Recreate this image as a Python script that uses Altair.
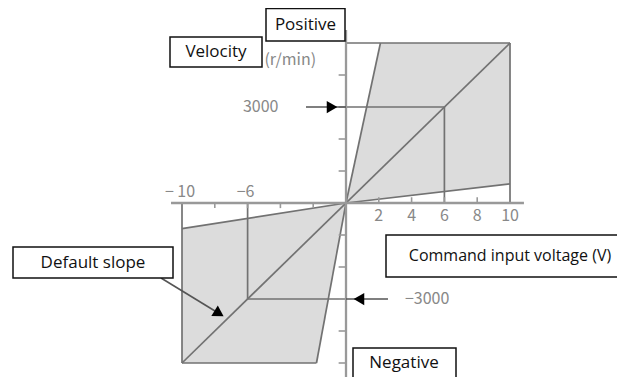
import altair as alt
import pandas as pd

# ---------------- data ----------------
V_MAX = 10                 # command input voltage range (V)
N_MAX = 5000               # velocity range (r/min)
steep_pos_v = 2.1          # voltage where the steepest slope reaches +N_MAX
steep_neg_v = -1.8         # voltage where the steepest slope reaches -N_MAX
low_pos_n = 600            # velocity at +10 V on the flattest slope
low_neg_n = -800           # velocity at -10 V on the flattest slope
example_v = [6, -6]        # example command voltages
example_n = [3000, -3000]  # resulting velocities on default slope
x_ticks = [-8, -6, -4, -2, 2, 4, 6, 8]
y_ticks = [-5000, -4000, -3000, -2000, -1000, 1000, 2000, 3000, 4000]
x_labels_neg = [-10, -6]
x_labels_neg_text = ["\u2212 10", "\u22126"]
x_labels_pos = [2, 4, 6, 8, 10]
vel_labels = ["3000", "\u22123000"]

# ---------------- layout ----------------
W, H = 609, 369
X_DOMAIN = [-20.61, 16.524]
Y_DOMAIN = [-5437.5, 6094]
xs = alt.Scale(domain=X_DOMAIN, nice=False, zero=False)
ys = alt.Scale(domain=Y_DOMAIN, nice=False, zero=False)
EDGE = "#727272"
AXIS = "#999999"
LABEL = "#888888"
FONT_NUM = "Noto Sans CJK JP"
FONT_BOX = "Open Sans"


def X(f):
    return alt.X(f, type="quantitative", scale=xs, axis=None)


def Y(f):
    return alt.Y(f, type="quantitative", scale=ys, axis=None)


# shaded envelopes
area_df = pd.DataFrame({
    "region": ["pos", "pos", "pos", "neg", "neg", "neg"],
    "x": [0, steep_pos_v, V_MAX, -V_MAX, steep_neg_v, 0],
    "y": [0, N_MAX, N_MAX, low_neg_n, low_neg_n * steep_neg_v / -V_MAX, 0],
    "y2": [0, low_pos_n * steep_pos_v / V_MAX, low_pos_n, -N_MAX, -N_MAX, 0],
})
areas = alt.Chart(area_df).mark_area(color="#dcdcdc", orient="vertical").encode(
    x=X("x"), y=Y("y"), y2="y2", detail="region:N")

# envelope edges and slopes
seg_df = pd.DataFrame([
    (0, 0, steep_pos_v, N_MAX),
    (0, N_MAX, V_MAX, N_MAX),
    (V_MAX, N_MAX, V_MAX, 0),
    (0, 0, V_MAX, low_pos_n),
    (0, 0, steep_neg_v, -N_MAX),
    (-V_MAX, -N_MAX, steep_neg_v, -N_MAX),
    (-V_MAX, 0, -V_MAX, -N_MAX),
    (0, 0, -V_MAX, low_neg_n),
    (-V_MAX, -N_MAX, V_MAX, N_MAX),
    (example_v[0], 0, example_v[0], example_n[0]),
    (example_v[1], 0, example_v[1], example_n[1]),
    (0, example_n[0], example_v[0], example_n[0]),
    (example_v[1], example_n[1], 0, example_n[1]),
], columns=["x", "y", "x2", "y2"])
segs = alt.Chart(seg_df).mark_rule(color=EDGE, strokeWidth=1.7).encode(
    x=X("x"), y=Y("y"), x2="x2", y2="y2")

# axes
axis_df = pd.DataFrame([
    (-10.67, 0, 10.85, 0),
    (0, -5437, 0, 5406),
], columns=["x", "y", "x2", "y2"])
axes = alt.Chart(axis_df).mark_rule(color=AXIS, strokeWidth=2.3).encode(
    x=X("x"), y=Y("y"), x2="x2", y2="y2")

xt_df = pd.DataFrame({"x": x_ticks,
                      "y": [0 if v > 0 else -160 for v in x_ticks],
                      "y2": [180 if v > 0 else 0 for v in x_ticks]})
xticks = alt.Chart(xt_df).mark_rule(color=AXIS, strokeWidth=1.6).encode(
    x=X("x"), y=Y("y"), y2="y2")
yt_df = pd.DataFrame({"y": y_ticks, "x": [-0.45] * len(y_ticks), "x2": [0] * len(y_ticks)})
yticks = alt.Chart(yt_df).mark_rule(color=AXIS, strokeWidth=1.6).encode(
    x=X("x"), x2="x2", y=Y("y"))

# tick labels
neg_lab = alt.Chart(pd.DataFrame({"x": x_labels_neg, "t": x_labels_neg_text, "y": [0, 0]})).mark_text(
    font=FONT_NUM, fontSize=16, color=LABEL, dy=-11, dx=-2).encode(x=X("x"), y=Y("y"), text="t:N")
pos_lab = alt.Chart(pd.DataFrame({"x": x_labels_pos, "y": [0] * 5})).mark_text(
    font=FONT_NUM, fontSize=16, color=LABEL, dy=13).encode(x=X("x"), y=Y("y"), text="x:Q")

vel_lab = alt.Chart(pd.DataFrame({"x": [-5.2, 4.95], "y": example_n, "t": vel_labels})).mark_text(
    font=FONT_NUM, fontSize=16, color=LABEL).encode(x=X("x"), y=Y("y"), text="t:N")
unit_lab = alt.Chart(pd.DataFrame({"x": [-3.4], "y": [4480], "t": ["(r/min)"]})).mark_text(
    font=FONT_NUM, fontSize=16, color=LABEL).encode(x=X("x"), y=Y("y"), text="t:N")

# arrows
arrow_lines = pd.DataFrame([
    (-2.44, example_n[0], 0, example_n[0]),
    (0, example_n[1], 2.56, example_n[1]),
    (-11.28, -2344, -7.74, -3453),
], columns=["x", "y", "x2", "y2"])
arr_l = alt.Chart(arrow_lines).mark_rule(color="#555555", strokeWidth=1.6).encode(
    x=X("x"), y=Y("y"), x2="x2", y2="y2")
heads = pd.DataFrame({
    "x": [-0.85, 0.79, -7.74],
    "y": [example_n[0], example_n[1], -3453],
    "shape": ["triangle-right", "triangle-left", "triangle-right"],
    "angle": [0, 0, 32],
})
arr_h = alt.Chart(heads).mark_point(filled=True, color="#000000", size=150, opacity=1).encode(
    x=X("x"), y=Y("y"), shape=alt.Shape("shape:N", scale=None), angle=alt.Angle("angle:Q", scale=None))

# labelled boxes (pixel layout)
boxes = [
    ("Positive", 258, 0.5, 337, 33, None, 17),
    ("Velocity", 162, 29, 254, 59, None, 17),
    ("Default slope", 5, 239, 165, 270, None, 17),
    ("Command input voltage (V)", 378, 227, 640, 269, (502, 248), 16),
    ("Negative", 345, 340, 448, 385, (396, 355), 17),
]
box_layers = []
for label, x1, y1, x2, y2, tpos, fs in boxes:
    d = pd.DataFrame({"t": [label]})
    box_layers.append(alt.Chart(d).mark_rect(fill="white", stroke="#111111", strokeWidth=1.5).encode(
        x=alt.value(x1), x2=alt.value(x2), y=alt.value(y1), y2=alt.value(y2)))
    tx, ty = tpos if tpos else ((x1 + x2) / 2, (y1 + y2) / 2)
    box_layers.append(alt.Chart(d).mark_text(font=FONT_BOX, fontSize=fs, color="#111111", baseline="middle").encode(
        x=alt.value(tx), y=alt.value(ty), text="t:N"))

chart = alt.layer(
    areas, segs, axes, xticks, yticks, neg_lab, pos_lab, vel_lab, unit_lab, arr_l, arr_h, *box_layers
).properties(
    width=W, height=H, autosize=alt.AutoSizeParams(type="none"), padding=0, background="white"
).configure_view(stroke=None)

chart.save("out.html", embed_options={"renderer": "svg", "actions": False})
